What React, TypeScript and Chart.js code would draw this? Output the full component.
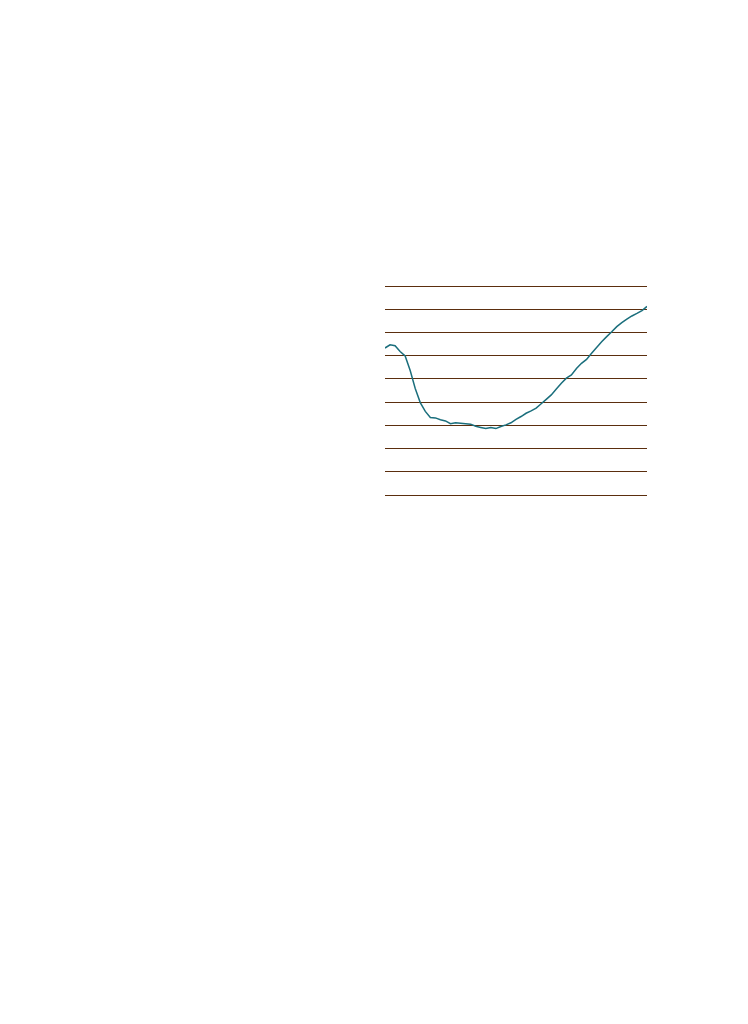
import React, { useRef, useEffect } from 'react';
import Chart from 'chart.js/auto';

// samples, left to right
const values: number[] = [
  6.33, 6.47, 6.43, 6.18, 5.99, 5.36, 4.59, 3.98, 3.6, 3.34,
  3.32, 3.24, 3.19, 3.07, 3.11, 3.09, 3.07, 3.05, 2.96, 2.91,
  2.86, 2.91, 2.86, 2.95, 3.02, 3.11, 3.26, 3.38, 3.52, 3.62,
  3.74, 3.93, 4.12, 4.31, 4.56, 4.81, 5.03, 5.17, 5.45, 5.67,
  5.84, 6.1, 6.35, 6.6, 6.82, 7.03, 7.25, 7.42, 7.57, 7.71,
  7.82, 7.94, 8.12,
];
const labels: string[] = values.map((_, i) => String(i + 1));
const yMin = 0;
const yMax = 9;

const LineChart: React.FC = () => {
  const chartRef = useRef<HTMLCanvasElement | null>(null);
  const chartInstance = useRef<Chart | null>(null);

  useEffect(() => {
    if (!chartRef.current) return;
    if (chartInstance.current) {
      chartInstance.current.destroy();
    }
    const ctx = chartRef.current.getContext('2d');
    if (!ctx) return;

    chartInstance.current = new Chart(ctx, {
      type: 'line',
      data: {
        labels,
        datasets: [
          {
            data: values,
            borderColor: '#1a6e7c',
            borderWidth: 1.5,
            pointRadius: 0,
            tension: 0,
            fill: false,
          },
        ],
      },
      options: {
        animation: false,
        responsive: true,
        maintainAspectRatio: false,
        layout: { padding: { top: 10, bottom: 11, left: 0, right: 0 } },
        plugins: {
          legend: { display: false },
          tooltip: { enabled: false },
        },
        scales: {
          x: {
            display: false,
            offset: false,
          },
          y: {
            min: yMin,
            max: yMax,
            border: { display: false },
            grid: { color: '#5b2e0e', lineWidth: 1, drawTicks: false },
            ticks: { display: false, stepSize: 1 },
          },
        },
      },
    });

    return () => {
      if (chartInstance.current) {
        chartInstance.current.destroy();
        chartInstance.current = null;
      }
    };
  }, []);

  return <canvas ref={chartRef} />;
};

export default function App() {
  return (
    <div style={{ position: 'absolute', left: 385, top: 276, width: 262, height: 230 }}>
      <LineChart />
    </div>
  );
}
